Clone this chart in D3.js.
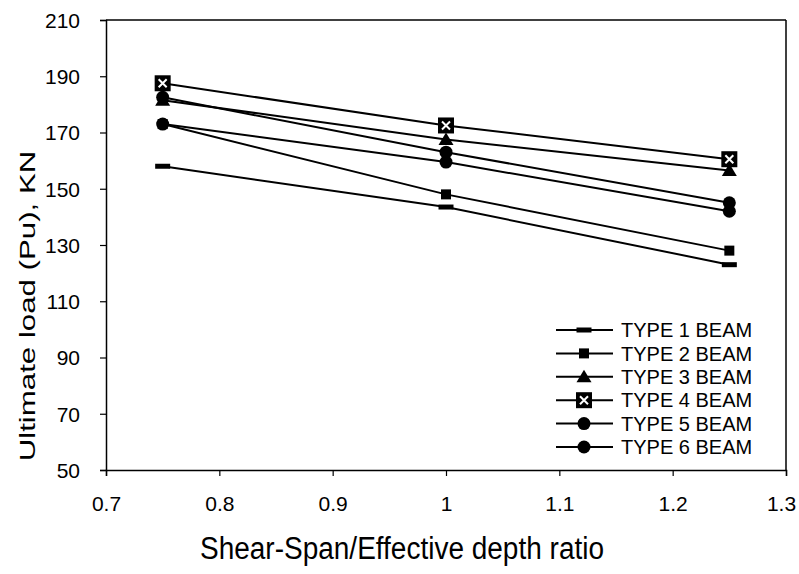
<!DOCTYPE html>
<html>
<head>
<meta charset="utf-8">
<script src="https://cdn.jsdelivr.net/npm/d3@7"></script>
<style>
  html, body { margin: 0; padding: 0; background: #fff; }
  svg { display: block; font-family: Arial, "Liberation Sans", sans-serif; }
</style>
</head>
<body>
<svg id="chart" width="799" height="574"></svg>
<script>
// ---- data ----
const ratios = [0.75, 1.0, 1.25];
const seriesNames = ["TYPE 1 BEAM", "TYPE 2 BEAM", "TYPE 3 BEAM", "TYPE 4 BEAM", "TYPE 5 BEAM", "TYPE 6 BEAM"];
const type1 = [158, 143.5, 123];
const type2 = [173, 148, 128];
const type3 = [181.5, 167.5, 156.5];
const type4 = [187.5, 172.5, 160.5];
const type5 = [182.5, 163, 145];
const type6 = [173, 159.5, 142];
const markerKinds = ["dash", "square", "triangle", "xbox", "circle", "circle"];
const xTickValues = [0.7, 0.8, 0.9, 1.0, 1.1, 1.2, 1.3];
const yTickValues = [50, 70, 90, 110, 130, 150, 170, 190, 210];
const xTitle = "Shear-Span/Effective depth ratio";
const yTitle = "Ultimate load (Pu), KN";

const seriesValues = [type1, type2, type3, type4, type5, type6];

const svg = d3.select("#chart");
const x = d3.scaleLinear().domain([0.7, 1.3]).range([106, 786]);
const y = d3.scaleLinear().domain([50, 210]).range([470, 20]);

// frame: top and right borders
svg.append("line").attr("x1", x(0.7)).attr("x2", x(1.3)).attr("y1", y(210)).attr("y2", y(210))
  .attr("stroke", "#000").attr("stroke-width", 1.5);
svg.append("line").attr("x1", x(1.3)).attr("x2", x(1.3)).attr("y1", y(210)).attr("y2", y(50))
  .attr("stroke", "#000").attr("stroke-width", 1.5);

// axes
const xAxis = d3.axisBottom(x).tickValues(xTickValues).tickFormat(d3.format("")).tickSize(6).tickPadding(20);
const yAxis = d3.axisLeft(y).tickValues(yTickValues).tickFormat(d3.format("d")).tickSize(6).tickPadding(20);

const gx = svg.append("g").attr("transform", `translate(0,${y(50)})`).call(xAxis);
const gy = svg.append("g").attr("transform", `translate(${x(0.7)},0)`).call(yAxis);
[gx, gy].forEach(g => {
  g.select(".domain").attr("stroke", "#000").attr("stroke-width", 1.5);
  g.selectAll(".tick line").attr("stroke", "#000").attr("stroke-width", 1.2);
  g.selectAll(".tick text").attr("fill", "#000").attr("font-size", 21)
    .attr("font-family", "Arial, 'Liberation Sans', sans-serif");
});
gx.selectAll(".tick text").attr("dy", "0.71em")
  .attr("dx", d => d === 1.3 ? -5 : 0);
gy.selectAll(".tick text").attr("dy", "0.35em");

// axis titles
svg.append("text")
  .attr("transform", "translate(402,559) scale(1,1.1)")
  .attr("text-anchor", "middle")
  .attr("font-size", 28)
  .attr("fill", "#000")
  .text(xTitle);
svg.append("text")
  .attr("transform", "translate(35,306) rotate(-90) scale(1.42,1)")
  .attr("text-anchor", "middle")
  .attr("font-size", 22)
  .attr("fill", "#000")
  .text(yTitle);

// marker drawing
function drawMarker(g, kind, cx, cy) {
  if (kind === "dash") {
    g.append("rect").attr("x", cx - 7.5).attr("y", cy - 2.5).attr("width", 15).attr("height", 5).attr("fill", "#000");
  } else if (kind === "square") {
    g.append("rect").attr("x", cx - 5).attr("y", cy - 5).attr("width", 10).attr("height", 10).attr("fill", "#000");
  } else if (kind === "triangle") {
    g.append("path").attr("d", `M${cx},${cy - 7} L${cx + 7.5},${cy + 5.5} L${cx - 7.5},${cy + 5.5} Z`).attr("fill", "#000");
  } else if (kind === "xbox") {
    g.append("rect").attr("x", cx - 8).attr("y", cy - 8).attr("width", 16).attr("height", 16).attr("fill", "#000");
    g.append("path").attr("d", `M${cx - 4},${cy - 4} L${cx + 4},${cy + 4} M${cx + 4},${cy - 4} L${cx - 4},${cy + 4}`)
      .attr("stroke", "#fff").attr("stroke-width", 2);
  } else if (kind === "circle") {
    g.append("circle").attr("cx", cx).attr("cy", cy).attr("r", 6.5).attr("fill", "#000");
  }
}

// series lines and markers
const line = d3.line().x((d, i) => x(ratios[i])).y(d => y(d));
seriesValues.forEach((vals, si) => {
  const g = svg.append("g");
  g.append("path").attr("d", line(vals)).attr("fill", "none").attr("stroke", "#000").attr("stroke-width", 2);
  vals.forEach((v, i) => drawMarker(g, markerKinds[si], x(ratios[i]), y(v)));
});

// legend
const legendY0 = 330, legendStep = 23.4;
seriesNames.forEach((name, i) => {
  const ly = legendY0 + i * legendStep;
  const g = svg.append("g");
  g.append("line").attr("x1", 556).attr("x2", 613).attr("y1", ly).attr("y2", ly).attr("stroke", "#000").attr("stroke-width", 2);
  drawMarker(g, markerKinds[i], 584, ly);
  g.append("text").attr("x", 621).attr("y", ly).attr("dy", "0.36em")
    .attr("font-size", 20).attr("fill", "#000").text(name);
});
</script>
</body>
</html>
